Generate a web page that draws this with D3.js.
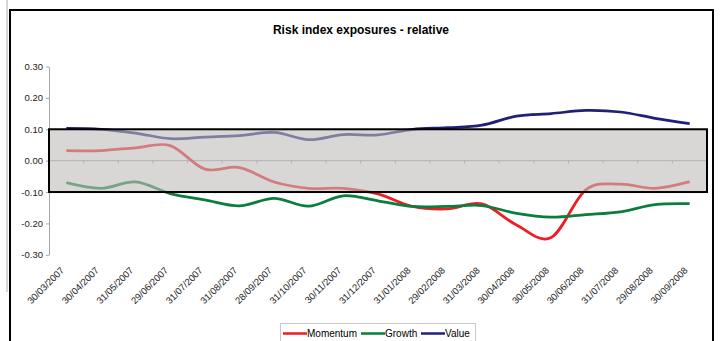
<!DOCTYPE html>
<html>
<head>
<meta charset="utf-8">
<script src="https://cdn.jsdelivr.net/npm/d3@7/dist/d3.min.js"></script>
<style>
  html, body { margin: 0; padding: 0; background: #fff; }
  svg { display: block; font-family: "Liberation Sans", Arial, sans-serif; }
</style>
</head>
<body>
<svg id="chart" width="720" height="341"></svg>
<script>
// Month-end observation dates
const dates = [
  "30/03/2007", "30/04/2007", "31/05/2007", "29/06/2007", "31/07/2007",
  "31/08/2007", "28/09/2007", "31/10/2007", "30/11/2007", "31/12/2007",
  "31/01/2008", "29/02/2008", "31/03/2008", "30/04/2008", "30/05/2008",
  "30/06/2008", "31/07/2008", "29/08/2008", "30/09/2008"
];

// Relative exposures per risk index
const momentum = [0.032, 0.032, 0.041, 0.048, -0.027, -0.022, -0.068, -0.088, -0.088, -0.106,
                  -0.146, -0.154, -0.138, -0.205, -0.245, -0.093, -0.075, -0.088, -0.067];
const growth   = [-0.070, -0.088, -0.068, -0.105, -0.125, -0.144, -0.120, -0.145, -0.112, -0.128,
                  -0.146, -0.146, -0.143, -0.168, -0.180, -0.172, -0.163, -0.140, -0.137];
const value    = [0.103, 0.100, 0.088, 0.070, 0.075, 0.080, 0.090, 0.067, 0.083, 0.082,
                  0.100, 0.105, 0.113, 0.142, 0.150, 0.160, 0.155, 0.135, 0.118];

const yTicks = [0.30, 0.20, 0.10, 0.00, -0.10, -0.20, -0.30];
const bandLimits = [0.10, -0.10];

const seriesNames = ["Momentum", "Growth", "Value"];
const seriesColors = ["#ee1c24", "#0b7d3e", "#202078"];
const seriesData = [momentum, growth, value];

const svg = d3.select("#chart");

// Outer chart frame
svg.append("line").attr("x1", 7).attr("x2", 7).attr("y1", 0).attr("y2", 292)
  .attr("stroke", "#c8c8c8").attr("stroke-width", 1.5);
svg.append("rect").attr("x", 10).attr("y", 10).attr("width", 703).attr("height", 345)
  .attr("fill", "#fff").attr("stroke", "#000").attr("stroke-width", 2);

// Title
svg.append("text").attr("x", 361).attr("y", 34).attr("text-anchor", "middle")
  .attr("font-size", 12).attr("font-weight", "bold").attr("fill", "#000")
  .text("Risk index exposures - relative");

const left = 49, right = 707;
const x = d3.scaleBand().domain(dates).range([left, right]).paddingInner(0).paddingOuter(0);
const y = d3.scaleLinear().domain([-0.3, 0.3]).range([254.8, 66.5]);
const cx = d => x(d) + x.bandwidth() / 2;

// Y axis
const yAxis = svg.append("g").attr("transform", `translate(${left},0)`)
  .call(d3.axisLeft(y).tickValues(yTicks).tickSize(3).tickSizeOuter(0)
    .tickFormat(d => d.toFixed(2)));
yAxis.select(".domain").attr("stroke", "#a6a6a6");
yAxis.selectAll(".tick line").attr("stroke", "#a6a6a6");
yAxis.selectAll(".tick text").attr("font-size", 9.5).attr("fill", "#222")
  .attr("font-family", "Liberation Sans, Arial, sans-serif").attr("x", -6);

// Category axis on the zero line, ticks between categories
const xAxis = svg.append("g");
xAxis.append("line").attr("x1", left).attr("x2", right).attr("y1", y(0)).attr("y2", y(0))
  .attr("stroke", "#a6a6a6");
xAxis.selectAll("line.tk").data(d3.range(dates.length + 1)).join("line")
  .attr("class", "tk")
  .attr("x1", i => left + i * x.step()).attr("x2", i => left + i * x.step())
  .attr("y1", y(0)).attr("y2", y(0) + 3).attr("stroke", "#a6a6a6");

// Date labels, rotated
svg.append("g").selectAll("text").data(dates).join("text")
  .attr("transform", d => `translate(${cx(d) - 1.5},271) rotate(-45)`)
  .attr("text-anchor", "end").attr("font-size", 9.5).attr("fill", "#222")
  .text(d => d);

// Series lines
const line = d3.line()
  .x((v, i) => cx(dates[i]))
  .y(v => y(v))
  .curve(d3.curveCatmullRom.alpha(0));

svg.append("g").selectAll("path").data(seriesData).join("path")
  .attr("d", d => line(d))
  .attr("fill", "none")
  .attr("stroke", (d, i) => seriesColors[i])
  .attr("stroke-width", 2.75)
  .attr("stroke-linejoin", "round");

// Neutral band between the exposure limits, laid over the lines
svg.append("rect")
  .attr("x", left).attr("y", y(bandLimits[0]))
  .attr("width", right - left).attr("height", y(bandLimits[1]) - y(bandLimits[0]))
  .attr("fill", "rgb(192,188,186)").attr("fill-opacity", 0.6)
  .attr("stroke", "#000").attr("stroke-width", 2);

// Legend
const legend = svg.append("g");
legend.append("rect").attr("x", 280.5).attr("y", 323.5).attr("width", 195).attr("height", 30)
  .attr("fill", "#fff").attr("stroke", "#c8c8c8");
const legendX = [283, 361, 421];
seriesNames.forEach((name, i) => {
  legend.append("line").attr("x1", legendX[i]).attr("x2", legendX[i] + 24)
    .attr("y1", 333.5).attr("y2", 333.5)
    .attr("stroke", seriesColors[i]).attr("stroke-width", 2.5);
  legend.append("text").attr("x", legendX[i] + 24).attr("y", 337)
    .attr("font-size", 10).attr("fill", "#000").text(name);
});
</script>
</body>
</html>
